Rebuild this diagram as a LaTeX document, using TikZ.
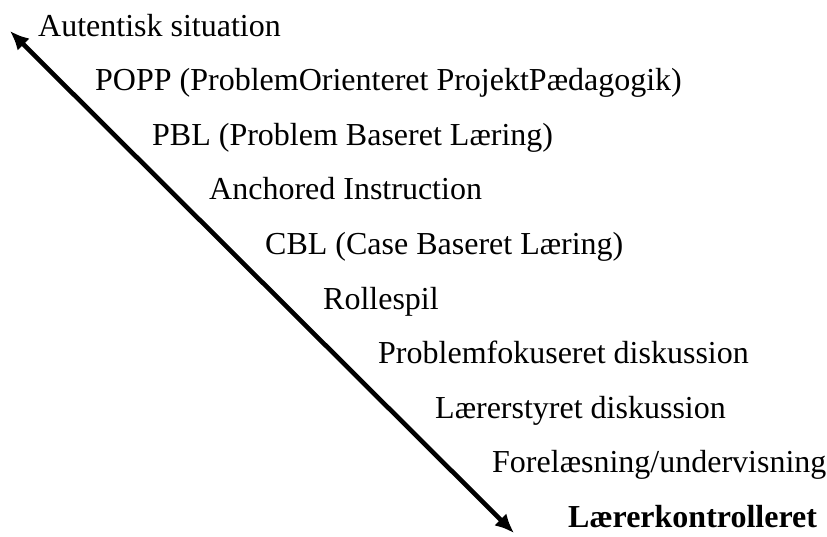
\documentclass[tikz,border=0pt]{standalone}
\usepackage{fontspec}
\setmainfont{Liberation Serif}
\usetikzlibrary{arrows.meta}
\begin{document}
\begin{tikzpicture}[x=1pt,y=-1pt,
  lbl/.style={anchor=base west,inner sep=0pt,font=\fontsize{32}{38}\selectfont},
  axis/.style={line width=4.6pt,{Latex[length=19pt,width=17pt]}-{Latex[length=19pt,width=17pt]}}]
\useasboundingbox (0,0) rectangle (827,536);
\coordinate (top) at (10,31);
\coordinate (bottom) at (514,533);
\draw[axis] (top) -- (bottom);
\node[lbl] (n1) at (38,36) {Autentisk situation};
\node[lbl] (n2) at (95,90.6) {POPP (ProblemOrienteret ProjektPædagogik)};
\node[lbl] (n3) at (152,145.2) {PBL (Problem Baseret Læring)};
\node[lbl] (n4) at (209,199.8) {Anchored Instruction};
\node[lbl] (n5) at (265,254.4) {CBL (Case Baseret Læring)};
\node[lbl] (n6) at (323,309) {Rollespil};
\node[lbl] (n7) at (378,363.6) {Problemfokuseret diskussion};
\node[lbl] (n8) at (435,418.2) {Lærerstyret diskussion};
\node[lbl] (n9) at (492,472.8) {Forelæsning/undervisning};
\node[lbl,font=\fontsize{32}{38}\selectfont\bfseries] (n10) at (568,527.4) {Lærerkontrolleret};
\end{tikzpicture}
\end{document}
